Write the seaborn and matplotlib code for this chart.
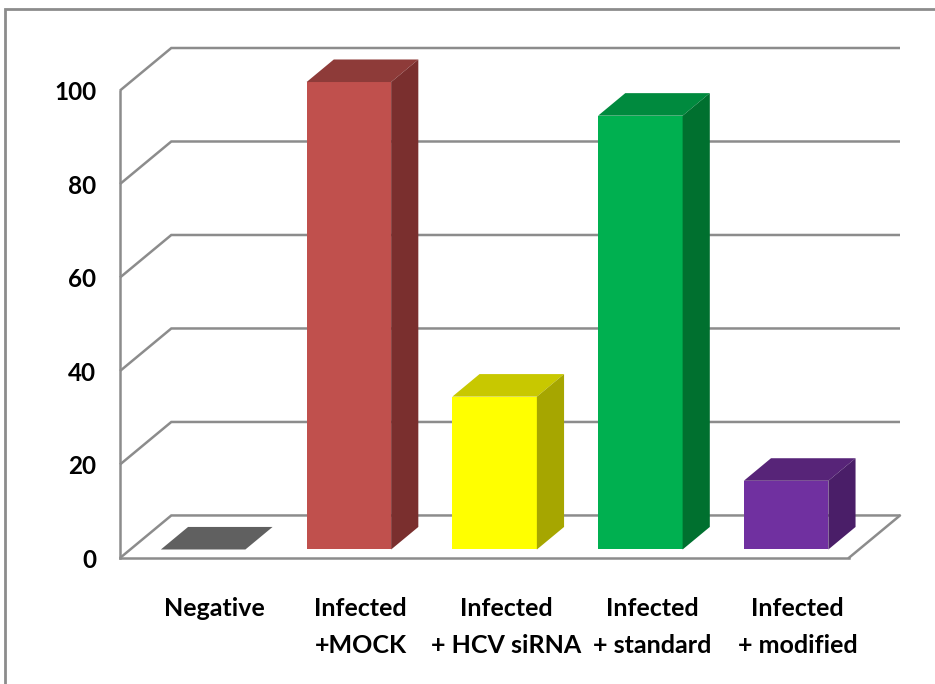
import numpy as np
import pandas as pd
import matplotlib
matplotlib.use("Agg")
import matplotlib.pyplot as plt
import seaborn as sns
from matplotlib.patches import Polygon, Rectangle

# Chart data
categories = ["Negative", "Infected\n+MOCK", "Infected\n+ HCV siRNA",
              "Infected\n+ standard", "Infected\n+ modified"]
values = [0, 100, 32.7, 92.8, 14.7]
y_ticks = [0, 20, 40, 60, 80, 100]

# Face colours: front, top, right side
front_colors = ["#606060", "#C0504D", "#FFFF00", "#00B050", "#7030A0"]
top_colors = ["#606060", "#8E3B39", "#C8C800", "#008A3E", "#572478"]
side_colors = ["#4A4A4A", "#7A2F2E", "#A6A600", "#00702F", "#4A1E68"]

GRID = "#8C8C8C"

sns.set_theme(style="white")
plt.rcParams["font.family"] = ["Lato", "DejaVu Sans"]
plt.rcParams["font.weight"] = "bold"

fig = plt.figure(figsize=(9.35, 6.84), dpi=100)
ax = fig.add_axes([120 / 935, (684 - 558) / 684, 780 / 935, 510 / 684])

# oblique depth of the chart floor (data units) and the bars' depth band
DX, DY = 0.352, 9.1
F0, F1 = 0.20, 0.73
W = 0.58

df = pd.DataFrame({"group": categories, "value": values})
sns.barplot(data=df, x="group", y="value", hue="group", order=categories,
            hue_order=categories, palette=front_colors, width=W,
            saturation=1, legend=False, ax=ax, zorder=3, linewidth=0)

n = len(categories)
ax.set_xlim(-0.5, n - 0.5 + DX)
ax.set_ylim(0, max(y_ticks) + DY)

# back wall, left wall and floor lines
for v in y_ticks:
    ax.plot([-0.5, -0.5 + DX, n - 0.5 + DX], [v, v + DY, v + DY],
            color=GRID, lw=1.8, zorder=1, clip_on=False,
            solid_capstyle="butt", solid_joinstyle="miter")
ax.plot([n - 0.5, n - 0.5 + DX], [0, DY], color=GRID, lw=1.8, zorder=1,
        clip_on=False)

# push the front faces into the depth band and add the top and side faces
bars = sorted(ax.patches, key=lambda p: p.get_x())
fx, fy = F0 * DX, F0 * DY
bx, by = (F1 - F0) * DX, (F1 - F0) * DY
for i, (bar, val) in enumerate(zip(bars, values)):
    x0 = bar.get_x() + fx
    bar.set_x(x0)
    bar.set_y(fy)
    bar.set_height(val)
    bar.set_edgecolor("none")
    top = fy + val
    ax.add_patch(Polygon([(x0, top), (x0 + W, top), (x0 + W + bx, top + by),
                          (x0 + bx, top + by)], closed=True,
                         facecolor=top_colors[i], edgecolor="none", zorder=3))
    if val > 0:
        ax.add_patch(Polygon([(x0 + W, fy), (x0 + W, top),
                              (x0 + W + bx, top + by), (x0 + W + bx, fy + by)],
                             closed=True, facecolor=side_colors[i],
                             edgecolor="none", zorder=3))

# axes styling
for s in ["top", "right"]:
    ax.spines[s].set_visible(False)
for s in ["left", "bottom"]:
    ax.spines[s].set_color(GRID)
    ax.spines[s].set_linewidth(1.8)
    ax.spines[s].set_zorder(2)
ax.spines["left"].set_bounds(0, max(y_ticks))
ax.spines["bottom"].set_bounds(-0.5, n - 0.5)

ax.set_yticks(y_ticks)
ax.set_yticklabels([str(t) for t in y_ticks])
ax.tick_params(axis="y", direction="out", length=6, width=1.8, color=GRID,
               pad=11, labelsize=17.5, labelcolor="black")

ax.set_xticks(np.arange(n) + 0.15)
ax.set_xticklabels(categories)
ax.set_xticks(np.arange(n + 1) - 0.5, minor=True)
ax.tick_params(axis="x", which="major", length=0, pad=28, labelsize=18,
               labelcolor="black")
ax.tick_params(axis="x", which="minor", direction="out", length=7, width=1.8,
               color=GRID)
for lab in ax.get_xticklabels() + ax.get_yticklabels():
    lab.set_fontweight("bold")
for lab in ax.get_xticklabels():
    lab.set_linespacing(1.75)
    lab.set_ha("center")

ax.set_xlabel("")
ax.set_ylabel("")
ax.grid(False)

# outer frame
fig.patches.append(Rectangle((5 / 935, -0.2), 1.5, 1.2 - 9 / 684,
                             transform=fig.transFigure, fill=False,
                             edgecolor=GRID, lw=2))

fig.savefig("out.png", dpi=100)
